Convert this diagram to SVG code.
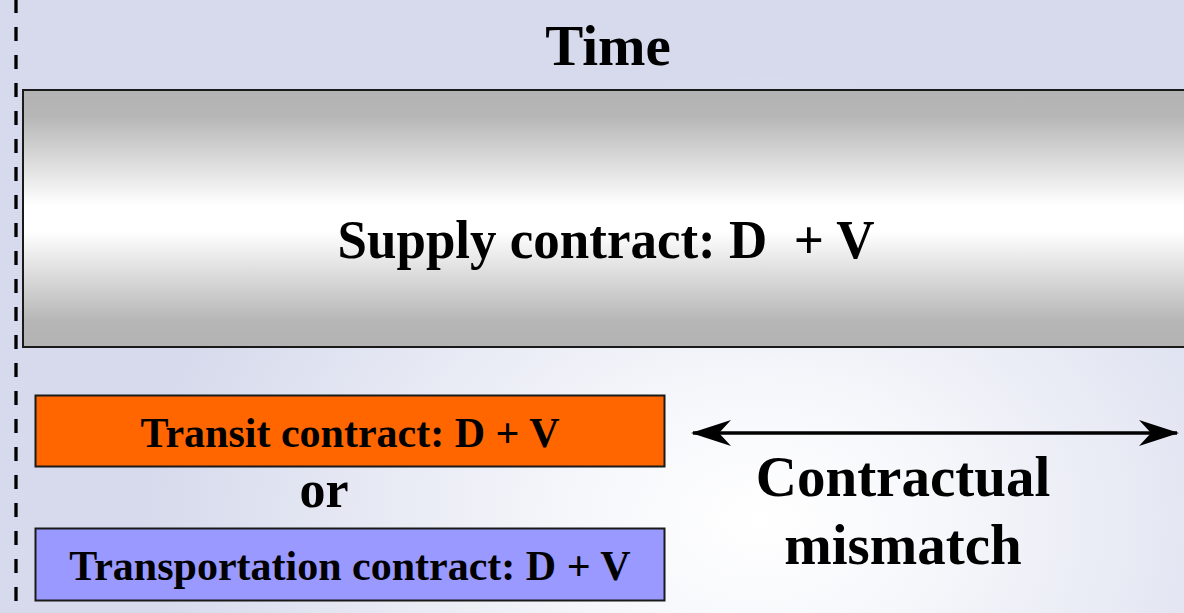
<svg xmlns="http://www.w3.org/2000/svg" width="1184" height="613" viewBox="0 0 1184 613">
  <defs>
    <radialGradient id="bg" gradientUnits="userSpaceOnUse" cx="760" cy="520" r="560" gradientTransform="translate(760 520) scale(1.1 0.8) translate(-760 -520)">
      <stop offset="0" stop-color="#ffffff"/>
      <stop offset="0.3" stop-color="#f6f7fb"/>
      <stop offset="1" stop-color="#d6daec"/>
    </radialGradient>
    <linearGradient id="bar" x1="0" y1="0" x2="0" y2="1">
      <stop offset="0" stop-color="#b3b3b3"/>
      <stop offset="0.1" stop-color="#b6b6b6"/>
      <stop offset="0.45" stop-color="#ffffff"/>
      <stop offset="0.55" stop-color="#ffffff"/>
      <stop offset="0.9" stop-color="#b6b6b6"/>
      <stop offset="1" stop-color="#b3b3b3"/>
    </linearGradient>
    <marker id="ah" viewBox="0 0 40 26" refX="38" refY="13" markerWidth="40" markerHeight="26" markerUnits="userSpaceOnUse" orient="auto-start-reverse">
      <path d="M0,0 L40,13 L0,26 L12,13 Z" fill="#000"/>
    </marker>
    <style>
      text { font-family: "Liberation Serif", "Times New Roman", serif; font-weight: bold; fill: #000; text-anchor: middle; }
      .box { stroke: #1a1a1a; stroke-width: 2; }
    </style>
  </defs>

  <rect x="0" y="0" width="1184" height="613" fill="url(#bg)"/>

  <line x1="16" y1="0" x2="16" y2="613" stroke="#000" stroke-width="3.3" stroke-dasharray="14 14" stroke-dashoffset="1"/>

  <text x="608" y="64.5" font-size="57">Time</text>

  <g id="supply">
    <rect class="box" x="23" y="90" width="1170" height="257" fill="url(#bar)"/>
    <text x="606" y="258" font-size="55" textLength="537" lengthAdjust="spacingAndGlyphs" xml:space="preserve">Supply contract: D  + V</text>
  </g>

  <g id="transit">
    <rect class="box" x="35.5" y="395.5" width="629" height="71" fill="#ff6600"/>
    <text x="350" y="446.5" font-size="42">Transit contract: D + V</text>
  </g>

  <g id="or">
    <text x="324" y="506.5" font-size="52">or</text>
  </g>

  <g id="transportation">
    <rect class="box" x="35.5" y="528.5" width="629" height="72" fill="#9999ff"/>
    <text x="350" y="580" font-size="42">Transportation contract: D + V</text>
  </g>

  <g id="connectors">
    <line x1="693" y1="433" x2="1177" y2="433" stroke="#000" stroke-width="3.5" marker-start="url(#ah)" marker-end="url(#ah)"/>
  </g>

  <g id="mismatch">
    <text x="903" y="495.5" font-size="57">Contractual</text>
    <text x="903" y="563.5" font-size="57">mismatch</text>
  </g>
</svg>
